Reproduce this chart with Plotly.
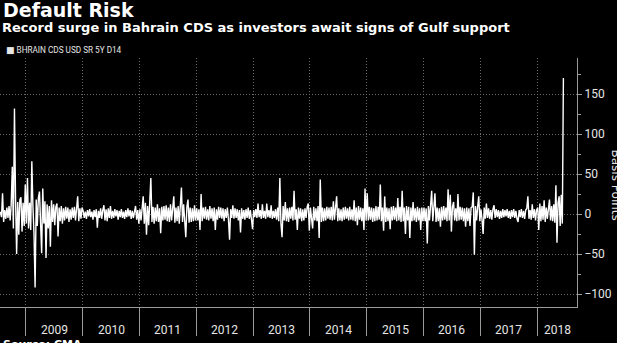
import pandas as pd
import plotly.graph_objects as go

TITLE = "Default Risk"
SUBTITLE = "Record surge in Bahrain CDS as investors await signs of Gulf support"
SERIES_NAME = "BHRAIN CDS USD SR 5Y D14"
SOURCE = "Source: CMA"
Y_TITLE = "Basis Points"

FIRST_DATE = "2008-07-18"
LAST_DATE = "2018-06-22"
X_START = "2008-07-19"
X_END = "2018-09-14"

# Weekly changes in Bahrain 5Y CDS (basis points)
vals_2008 = [3, -4, 26, -10, 5, -6, 8, -5, 10, -8, 12, 59, -18, 132, 20, -50,
             15, -26, 18, 21, -22, 14, -15, 37]
vals_2009 = [-12, 45, -18, 14, -20, 66, 10, -25, -92, 18, -15, 20, 28, -22, -49, 32,
             -12, 16, -55, 12, -18, 10, -41, 17, -10, 12, -14, 9, 13, -28, 8, -9,
             10, -12, 7, -8, 9, -6, 8, -10, 6, -7, 8, -5, 9, -8, 6, 22, -9, 7, -6, 8]
vals_2010 = [4, -5, 3, -6, 5, -3, 6, -4, 3, -7, 5, -4, 6, -17, 4, -5, 7, -6, 5, 11,
             -8, 6, -9, 7, -5, 10, -6, 4, -5, 6, -3, 5, -7, 4, -4, 6, -5, 3, -6, 5,
             -4, 7, -3, 5, -6, 4, -5, 6, 10, -7, 5, -12]
vals_2011 = [6, -8, 9, 22, -12, 14, -26, 10, -14, 12, 45, -10, 9, -12, 8, -9, 12, -10,
             7, -24, 9, -8, 10, -7, 11, -9, 8, -10, 12, -8, 9, 22, -11, 8, -9, 10,
             -12, 7, 33, -10, 12, -8, -29, 9, 18, -11, 8, -10, 7, -9, 11, -8]
vals_2012 = [7, -8, 6, -20, 25, -9, 8, -6, 9, -7, 6, -8, 10, -6, 7, -9, 8, -20, 6, -7,
             9, -5, 8, -6, 7, -9, 6, -5, 8, -7, -32, 6, -5, 11, -6, 7, -5, 6, -8, 5,
             -23, 7, -6, 5, -7, 6, -5, 8, -6, 5, -4, -19]
vals_2013 = [5, -4, 6, -5, 13, -4, 5, -6, 12, -5, 4, -6, 13, -4, 5, -5, 11, -6, 4, -5,
             6, -7, 8, -9, 45, -12, -29, 10, -8, 15, -9, 7, -10, 8, -6, 9, -8, 29,
             -7, 6, -20, 8, -6, 7, -9, 6, -8, 7, -5, 9, 13, -21]
vals_2014 = [8, -7, -18, 9, -8, 7, -9, 10, -30, 43, -10, 8, -9, 7, -8, 9, -6, 8, -7, 9,
             -8, 16, -7, 8, 22, -9, 7, -8, 6, -9, 8, -7, 9, -6, 7, -8, 9, -7, 6, -8,
             17, -9, 8, -14, 10, -7, 8, -9, 7, -20, 32, -8]
vals_2015 = [26, -8, 9, -7, 8, -10, 7, -9, 10, -8, 9, -7, 37, -9, 8, -21, 22, -10, 8,
             -9, 7, -19, 9, -8, 10, -7, 8, -9, 20, -8, 9, -10, 29, -9, 8, -25, 10, -8,
             9, -30, 8, -9, 15, -8, 7, -10, 9, -8, 7, -20, 8, -9]
vals_2016 = [8, -9, 7, -37, 10, -8, 9, 29, -9, 8, 26, -10, 8, -9, 7, -16, 9, -8, 10,
             -7, 8, -9, 31, -8, 24, -22, 9, 15, -8, 7, -9, 25, -8, 9, -7, 8, -9, 7,
             -16, 8, -9, 7, -15, 8, 9, 27, -51, 10, -8, 9, 22, -9]
vals_2017 = [6, -7, -25, 8, -6, 13, -5, 7, -6, 5, -7, 6, 11, -5, 6, -4, 5, -6, 4, -5,
             6, -4, 5, -3, 6, -5, 4, -6, 5, -4, 6, -5, 4, -6, -10, 5, -4, 6, -5, 4,
             -6, 5, 7, 22, -6, 5, -7, 12, -5, 6, -8, 5]
vals_2018 = [8, -20, 13, -9, 10, -7, 17, -10, 8, -6, 9, 18, -8, 10, -9, 12, -11, 36,
             -36, 14, 22, -15, 24, -12, 170]

year_values = [(2008, vals_2008), (2009, vals_2009), (2010, vals_2010), (2011, vals_2011),
               (2012, vals_2012), (2013, vals_2013), (2014, vals_2014), (2015, vals_2015),
               (2016, vals_2016), (2017, vals_2017), (2018, vals_2018)]

year_labels = [2009, 2010, 2011, 2012, 2013, 2014, 2015, 2016, 2017, 2018]
y_ticks = [-100, -50, 0, 50, 100, 150]
y_minor = [-75, -25, 25, 75, 125, 175]

first_year = year_values[0][0]
last_year = year_values[-1][0]
dates, values = [], []
for yr, vals in year_values:
    start = pd.Timestamp(FIRST_DATE) if yr == first_year else pd.Timestamp(f"{yr}-01-01")
    end = pd.Timestamp(LAST_DATE) if yr == last_year else pd.Timestamp(f"{yr + 1}-01-01")
    step = (end - start) / len(vals)
    for k, v in enumerate(vals):
        dates.append(start + step * (k + 0.5))
        values.append(v)

boundaries = [pd.Timestamp(f"{y}-01-01") for y in year_labels]
x_end = pd.Timestamp(X_END)
label_pos = []
for y in year_labels:
    a = pd.Timestamp(f"{y}-01-01")
    b = min(pd.Timestamp(f"{y + 1}-01-01"), x_end)
    label_pos.append(a + (b - a) / 2)

GRID = "#6a6a6a"
AXIS = "#9a9a9a"
TXT = "#e6e6e6"
NARROW = "Liberation Sans Narrow, Roboto, sans-serif"
BOLD = "DejaVu Sans, Open Sans, sans-serif"

fig = go.Figure()
fig.add_trace(go.Scatter(x=dates, y=values, mode="lines", name=SERIES_NAME,
                         line=dict(color="white", width=1.4), showlegend=False))

PLOT_H = 343 - 58 - 36
def py(pix):
    return (307 - pix) / PLOT_H

fig.update_layout(
    width=617, height=343, autosize=False,
    margin=dict(l=0, r=40, t=58, b=36, pad=0),
    paper_bgcolor="black", plot_bgcolor="black",
    xaxis=dict(type="date", range=[X_START, X_END], tickmode="array", tickvals=boundaries,
               showticklabels=False, ticks="outside", ticklen=28, tickcolor=AXIS, tickwidth=1,
               showgrid=True, gridcolor=GRID, griddash="1px,2px", gridwidth=1,
               showline=True, linecolor=AXIS, linewidth=1, zeroline=False),
    yaxis=dict(range=[-116.25, 195], side="right", tickmode="array", tickvals=y_ticks,
               ticks="outside", ticklen=4, tickcolor=AXIS,
               showgrid=True, gridcolor=GRID, griddash="1px,2px", gridwidth=1,
               showline=True, linecolor=AXIS, zeroline=False,
               tickfont=dict(family=NARROW, size=12, color=TXT),
               minor=dict(tickmode="array", tickvals=y_minor, ticks="outside", ticklen=3,
                          tickcolor=AXIS, showgrid=False)),
    showlegend=False,
)

for pos, lab in zip(label_pos, year_labels):
    fig.add_annotation(text=str(lab), xref="x", yref="paper", x=pos, y=py(330),
                       xanchor="center", yanchor="middle", showarrow=False,
                       font=dict(family=NARROW, size=12, color=TXT))

fig.add_annotation(text=TITLE, xref="paper", yref="paper", x=1 / 577, y=py(10),
                   xanchor="left", yanchor="middle", showarrow=False,
                   font=dict(family=BOLD, size=19, color="white", weight="bold"))
fig.add_annotation(text=SUBTITLE, xref="paper", yref="paper", x=0 / 577, y=py(27),
                   xanchor="left", yanchor="middle", showarrow=False,
                   font=dict(family=BOLD, size=13, color="white", weight="bold"))
fig.add_annotation(text="<span style='font-family:DejaVu Sans;font-size:9px'>■</span> " + SERIES_NAME,
                   xref="paper", yref="paper", x=4 / 577, y=py(50),
                   xanchor="left", yanchor="middle", showarrow=False,
                   font=dict(family=NARROW, size=8.2, color=TXT))
fig.add_annotation(text=SOURCE, xref="paper", yref="paper", x=1 / 577, y=py(336),
                   xanchor="left", yanchor="top", showarrow=False,
                   font=dict(family=BOLD, size=11, color="white", weight="bold"))
fig.add_annotation(text=Y_TITLE, xref="paper", yref="paper", x=607 / 577, y=py(184.5),
                   xanchor="left", yanchor="middle", showarrow=False, textangle=90,
                   font=dict(family=BOLD, size=12, color=TXT))

fig.write_html("out.html")
